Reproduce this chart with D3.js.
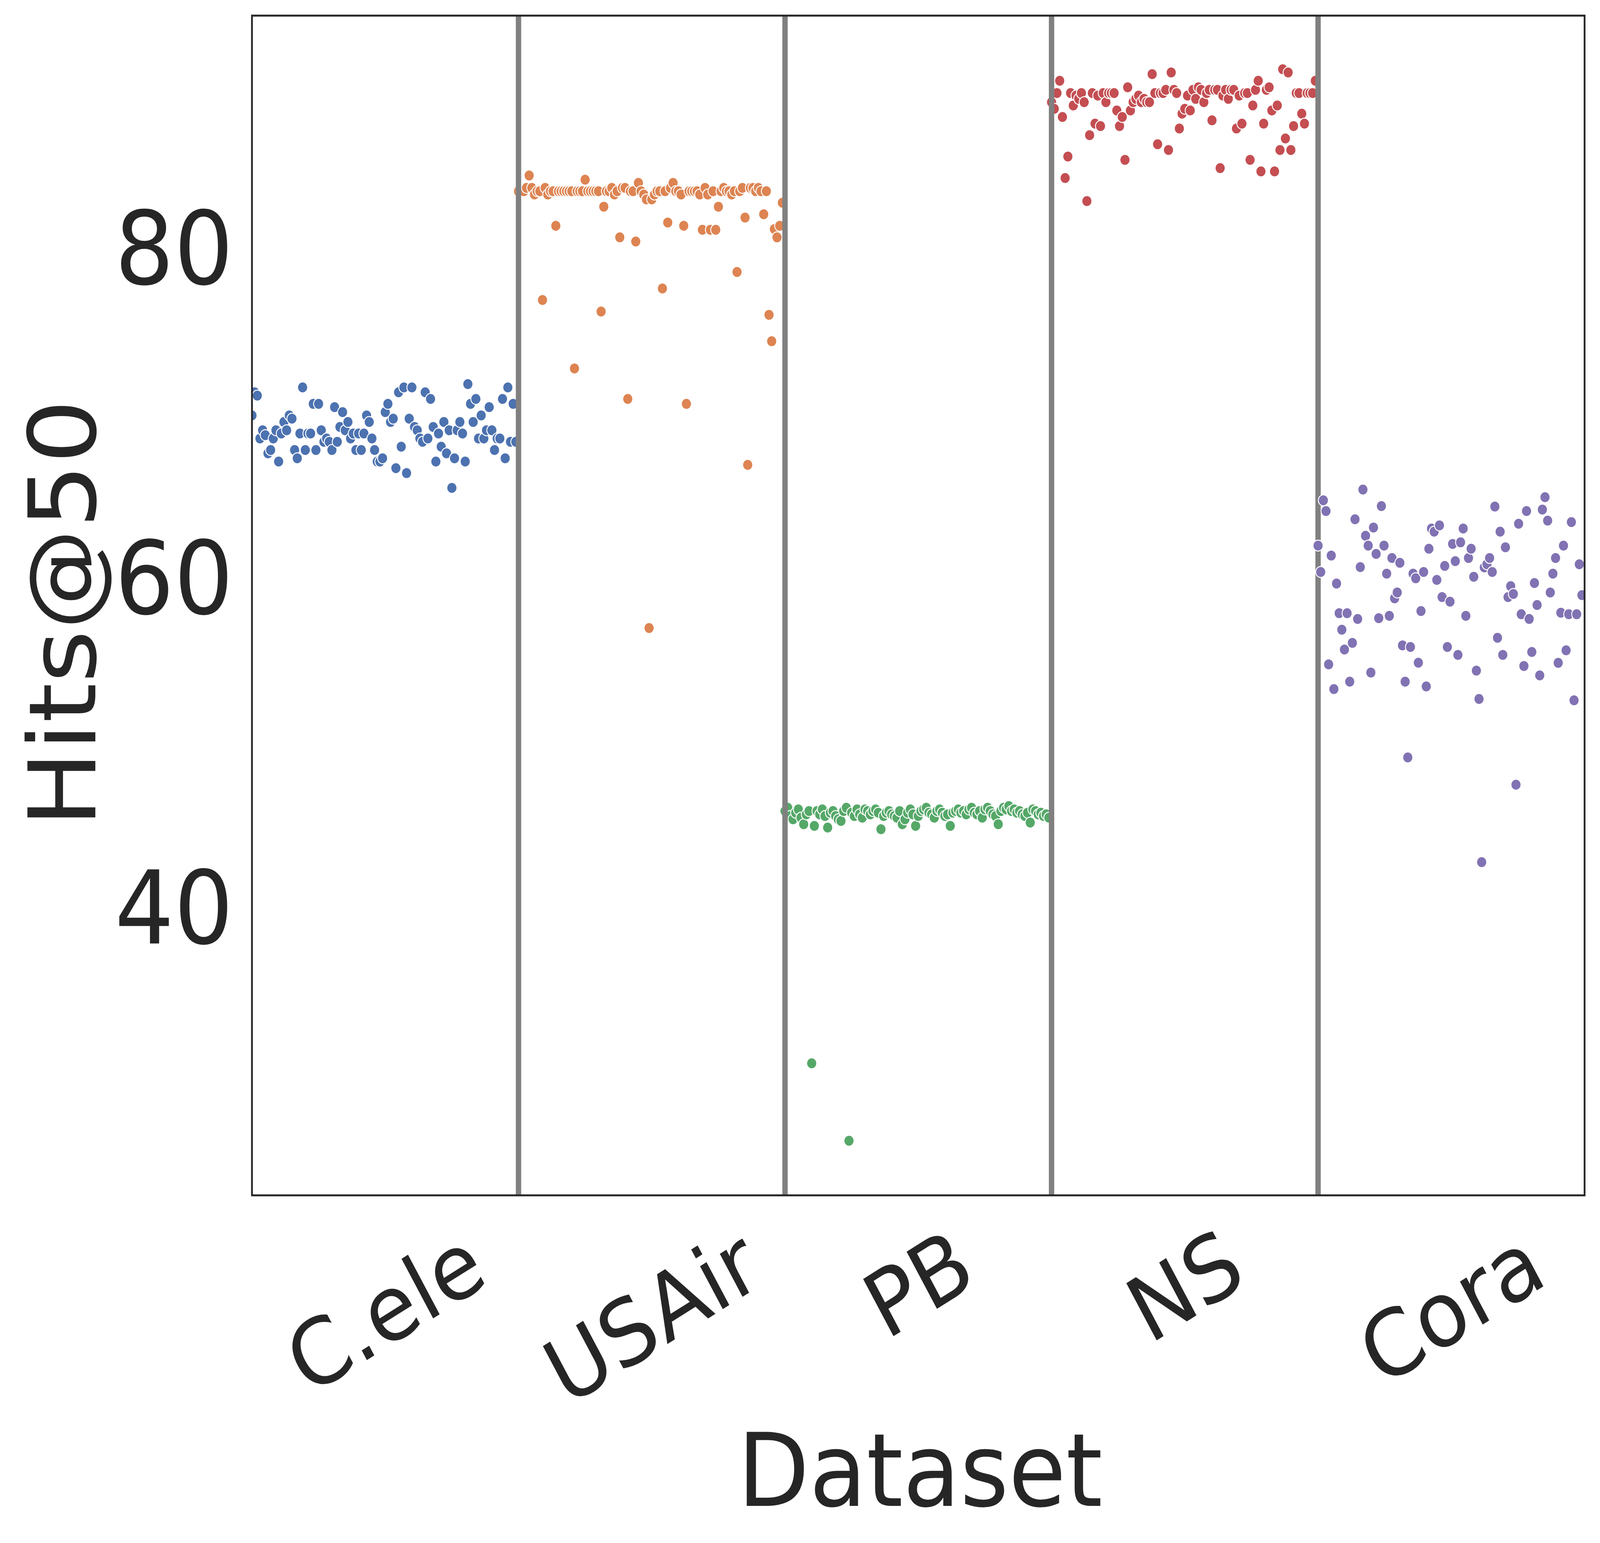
<!DOCTYPE html>
<html>
<head>
<meta charset="utf-8">
<script src="https://cdnjs.cloudflare.com/ajax/libs/d3/7.8.5/d3.min.js"></script>
<style>
    html, body { margin: 0; padding: 0; overflow: hidden; background: #ffffff; }
    #chart svg { display: block; width: 100vw; height: 100vh; }
    text { font-family: "DejaVu Sans", sans-serif; fill: #262626; }
</style>
</head>
<body>
<div id="chart"></div>
<script>

// categories
const datasets = ["C.ele", "USAir", "PB", "NS", "Cora"];

// Hits@50 of each run, in plotting order
const celeHits = [69.8, 71.2, 71.0, 68.4, 68.9, 68.6, 67.5, 67.7, 68.4, 68.9, 67.0, 68.7, 69.4, 68.9, 69.8, 69.6, 67.7, 67.2, 68.7, 71.5,
    67.7, 68.7, 68.7, 70.5, 67.7, 70.5, 68.9, 68.2, 68.4, 68.2, 67.7, 70.3, 68.2, 69.1, 70.0, 68.9, 69.4, 68.4, 68.7, 67.7,
    68.7, 67.7, 68.7, 69.8, 69.4, 68.4, 67.7, 67.0, 67.0, 67.2, 70.0, 70.5, 69.4, 69.6, 66.6, 71.2, 67.9, 71.5, 66.3, 69.6,
    71.5, 69.1, 68.9, 68.4, 68.2, 71.2, 68.4, 70.8, 69.1, 67.0, 68.7, 67.9, 69.4, 67.5, 68.9, 65.4, 67.2, 68.9, 69.4, 68.7,
    67.0, 71.7, 70.5, 69.4, 70.8, 68.4, 69.8, 68.4, 68.9, 70.3, 68.9, 67.7, 68.4, 68.4, 70.8, 67.2, 71.5, 68.2, 70.5, 68.2];

const usairHits = [83.4, 83.4, 83.4, 83.6, 84.35, 83.6, 83.2, 83.4, 83.4, 76.8, 83.6, 83.2, 83.4, 83.4, 81.3, 83.4, 83.4, 83.4, 83.4, 83.4,
    83.4, 72.65, 83.4, 83.4, 83.4, 84.1, 83.4, 83.4, 83.4, 83.4, 83.4, 76.1, 82.46, 83.4, 83.4, 83.6, 83.2, 83.4, 80.6, 83.6,
    83.6, 70.8, 83.4, 83.4, 80.35, 83.9, 83.4, 83.2, 82.9, 56.9, 82.9, 83.2, 83.4, 83.4, 77.5, 83.4, 81.5, 83.6, 83.9, 83.4,
    83.4, 83.2, 81.3, 70.5, 83.4, 83.4, 83.4, 83.4, 83.2, 81.06, 83.6, 83.2, 81.06, 83.4, 81.06, 82.46, 83.4, 83.6, 83.4, 83.4,
    83.2, 83.4, 78.5, 83.4, 83.6, 81.8, 66.8, 83.6, 83.6, 83.4, 83.6, 83.4, 82.0, 83.4, 75.9, 74.3, 81.1, 80.6, 81.3, 82.7];

const pbHits = [45.8, 46.0, 45.5, 45.3, 45.7, 45.9, 45.4, 45.0, 45.6, 45.8, 30.5, 44.9, 45.8, 45.6, 45.9, 45.5, 44.8, 45.7, 45.8, 45.5,
    45.3, 45.2, 45.8, 46.0, 25.8, 45.7, 45.5, 45.9, 45.6, 45.4, 45.9, 45.8, 45.6, 45.8, 45.9, 45.7, 44.7, 45.5, 45.7, 45.8,
    45.6, 45.5, 45.4, 45.8, 45.0, 45.3, 45.7, 45.9, 45.6, 44.9, 45.5, 45.8, 45.9, 46.0, 45.7, 45.6, 45.4, 45.8, 45.9, 45.7,
    45.5, 45.6, 44.9, 45.7, 45.8, 45.9, 45.7, 45.8, 45.6, 45.9, 46.0, 45.7, 45.6, 45.8, 45.4, 45.9, 46.0, 45.8, 45.6, 45.5,
    45.0, 45.8, 46.0, 45.9, 46.1, 45.8, 45.9, 45.7, 45.8, 45.6, 45.5, 45.7, 45.1, 45.9, 45.8, 45.6, 45.7, 45.5, 45.6, 45.4];

const nsHits = [88.8, 88.4, 89.35, 90.1, 87.9, 84.2, 85.5, 89.35, 88.6, 89.2, 89.0, 89.35, 88.8, 82.8, 86.8, 89.35, 87.5, 89.2, 87.35, 89.35,
    88.8, 89.35, 89.35, 89.35, 88.3, 87.35, 87.9, 85.3, 89.7, 88.3, 88.8, 89.0, 89.2, 88.8, 89.0, 88.8, 88.8, 90.5, 89.35, 86.25,
    89.35, 89.35, 89.55, 85.9, 90.6, 89.55, 89.35, 87.2, 88.1, 88.4, 89.2, 88.3, 89.55, 89.0, 89.7, 89.55, 88.8, 89.35, 89.55, 87.7,
    89.55, 89.55, 84.8, 89.2, 89.55, 89.0, 89.55, 89.55, 87.2, 89.2, 87.5, 89.35, 89.35, 85.3, 88.6, 89.55, 90.1, 84.6, 87.5, 89.55,
    89.7, 88.3, 84.6, 88.6, 85.9, 90.8, 86.6, 90.6, 85.9, 87.35, 89.35, 89.35, 88.1, 87.5, 89.35, 89.35, 89.35, 90.1];

const coraHits = [61.9, 60.3, 64.65, 64.0, 54.7, 61.3, 53.2, 59.6, 57.8, 56.8, 55.6, 57.8, 53.65, 56.0, 63.5, 57.45, 60.6, 65.3, 62.5, 61.9,
    54.2, 63.0, 61.4, 57.5, 64.3, 61.9, 60.2, 57.64, 61.15, 58.7, 59.06, 60.86, 55.85, 53.65, 49.05, 55.75, 60.2, 59.92, 54.8, 57.93,
    60.3, 53.36, 61.71, 62.94, 62.75, 59.82, 63.13, 58.78, 60.67, 55.75, 58.5, 62.0, 60.96, 55.27, 62.1, 62.94, 57.64, 61.15, 61.71, 60.01,
    54.32, 52.6, 42.7, 60.58, 60.77, 61.15, 60.3, 64.27, 56.31, 62.75, 55.27, 61.8, 58.78, 59.44, 58.97, 47.4, 63.23, 57.74, 54.6, 64.0,
    57.45, 55.45, 59.63, 58.3, 54.03, 64.09, 64.84, 63.42, 59.06, 60.2, 61.15, 54.79, 57.83, 61.9, 55.55, 57.74, 63.33, 52.52, 57.74, 60.77, 58.9];

const hitsByDataset = [celeHits, usairHits, pbHits, nsHits, coraHits];

// tick labels
const yTicks = [40, 60, 80];

// seaborn "deep"
const colors = ["#4c72b0", "#dd8452", "#55a868", "#c44e52", "#8172b3"];


class StripChart {

    constructor(parentElement, names, values) {
        this.parentElement = parentElement;
        this.names = names;
        this.values = values;
        this.displayData = [];

        this.initVis();
    }

    initVis() {
        let vis = this;

        vis.margin = {top: 40, right: 43, bottom: 890, left: 703};
        vis.width = 4464 - vis.margin.left - vis.margin.right;
        vis.height = 3950 - vis.margin.top - vis.margin.bottom;

        // drawn in 4464x3950 units, stretched to whatever the window really is
        vis.root = d3.select("#" + vis.parentElement).append("svg")
            .attr("viewBox", "0 0 4464 3950")
            .attr("preserveAspectRatio", "none");

        vis.svg = vis.root.append("g")
            .attr("transform", `translate(${vis.margin.left}, ${vis.margin.top})`);

        vis.svg.append("clipPath")
            .attr("id", "clip")
            .append("rect")
            .attr("width", vis.width)
            .attr("height", vis.height);

        // scales
        vis.x = d3.scaleLinear()
            .domain([0, vis.names.length])
            .range([0, vis.width]);

        vis.y = d3.scaleLinear()
            .domain([22.49, 94.05])
            .range([vis.height, 0]);

        vis.wrangleData();
    }

    wrangleData() {
        let vis = this;
        vis.displayData = [];

        // each run sits at its position inside the dataset's slot
        vis.values.forEach(function(arr, i) {
            arr.forEach(function(v, j) {
                vis.displayData.push({set: i, pos: i + j / arr.length, hits: v});
            });
        });

        vis.updateVis();
    }

    updateVis() {
        let vis = this;

        let plot = vis.svg.append("g").attr("clip-path", "url(#clip)");

        let drawDots = function(rows) {
            plot.append("g")
                .selectAll("circle")
                .data(rows)
                .enter().append("circle")
                .attr("cx", d => vis.x(d.pos))
                .attr("cy", d => vis.y(d.hits))
                .attr("r", 14)
                .attr("fill", d => colors[d.set])
                .attr("stroke", "#ffffff")
                .attr("stroke-width", 2.5);
        };

        drawDots(vis.displayData.filter(d => d.set < 4));

        // separators between datasets
        plot.selectAll(".sep")
            .data(d3.range(1, vis.names.length))
            .enter().append("line")
            .attr("class", "sep")
            .attr("x1", d => vis.x(d))
            .attr("x2", d => vis.x(d))
            .attr("y1", 0)
            .attr("y2", vis.height)
            .attr("stroke", "#808080")
            .attr("stroke-width", 15);

        drawDots(vis.displayData.filter(d => d.set === 4));

        // frame
        vis.svg.append("rect")
            .attr("width", vis.width)
            .attr("height", vis.height)
            .attr("fill", "none")
            .attr("stroke", "#262626")
            .attr("stroke-width", 5);

        // y axis
        vis.yAxis = d3.axisLeft(vis.y)
            .tickValues(yTicks)
            .tickSize(0)
            .tickPadding(52);

        let yg = vis.svg.append("g").call(vis.yAxis);
        yg.select(".domain").remove();
        yg.selectAll("text")
            .attr("font-size", 260)
            .attr("font-family", "DejaVu Sans")
            .attr("fill", "#262626")
            .attr("dy", "0.36em");

        // x axis, labels turned by 30 degrees
        vis.xAxis = d3.axisBottom(vis.x)
            .tickValues(d3.range(vis.names.length).map(i => i + 0.5))
            .tickFormat(d => vis.names[Math.floor(d)])
            .tickSize(0);

        let xg = vis.svg.append("g")
            .attr("transform", `translate(0, ${vis.height})`)
            .call(vis.xAxis);
        xg.select(".domain").remove();
        xg.selectAll("text")
            .attr("font-size", 232)
            .attr("font-family", "DejaVu Sans")
            .attr("fill", "#262626")
            .attr("text-anchor", "middle")
            .attr("y", 0)
            .attr("dy", "0.346em")
            .attr("transform", function() {
                let w = this.getComputedTextLength();
                let h = 232 * 1.164;
                let cy = 36 + (w * 0.5 + h * 0.866) / 2;
                return `translate(0, ${cy}) rotate(-30)`;
            });

        // axis titles
        vis.root.append("text")
            .attr("transform", "translate(266, 1570) rotate(-90)")
            .attr("text-anchor", "middle")
            .attr("font-size", 260)
            .text("Hits@50");

        vis.root.append("text")
            .attr("x", vis.margin.left + vis.width / 2 + 5)
            .attr("y", 3855)
            .attr("text-anchor", "middle")
            .attr("font-size", 260)
            .text("Dataset");
    }
}

let chart = new StripChart("chart", datasets, hitsByDataset);

</script>
</body>
</html>
